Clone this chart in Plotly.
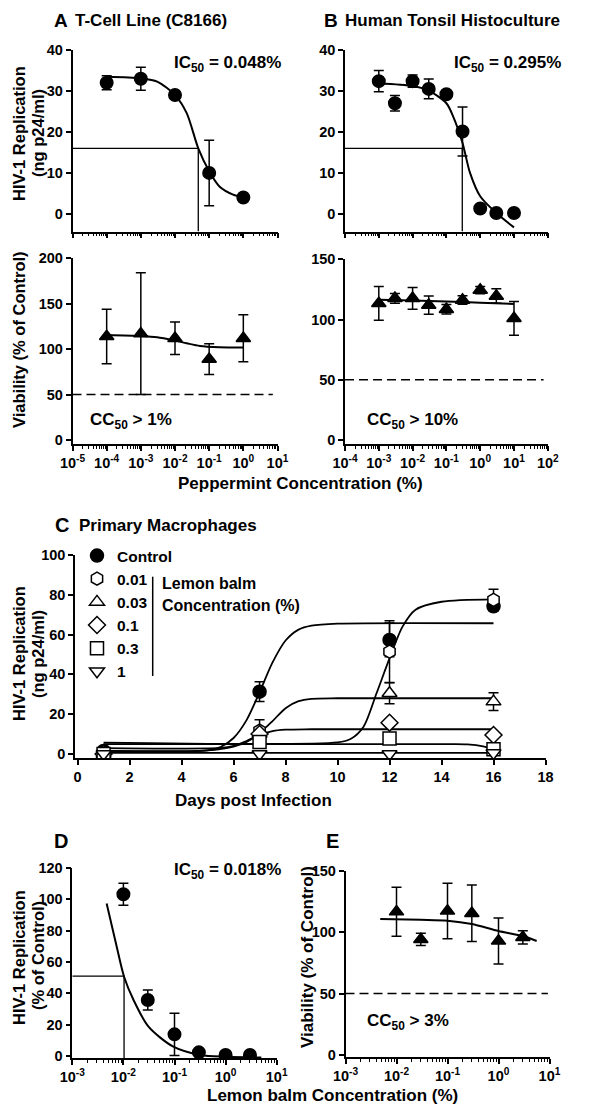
import plotly.graph_objects as go

FONT = "Liberation Sans, Arial, Helvetica, sans-serif"
# the page adds an 8px body margin, so the figure is drawn 16px smaller
OFF = 8
W, H = 600 - 2 * OFF, 1114 - 2 * OFF

# ---------------- Panel A: T-cell line (C8166), peppermint ----------------
a_conc = [1e-4, 1e-3, 1e-2, 1e-1, 1]
a_hiv = [32, 33, 29, 10, 4]
a_hiv_err = [1.7, 2.8, 0, 8, 0]
a_fit_x = [1e-4, 1e-3, 3e-3, 1e-2, 2.2e-2, 4.8e-2, 1e-1, 2e-1, 5e-1, 1]
a_fit_y = [33.5, 33.1, 32.3, 29, 24.6, 16, 10.4, 6.7, 4.7, 4.0]
a_ic50 = 0.048
a_half = 16
a_via = [114, 117, 112, 89, 112]
a_via_err = [30, 67, 18, 17, 26]
a_via_fit_x = [1e-4, 1e-3, 3e-3, 1e-2, 2.2e-2, 5.4e-2, 0.2, 1]
a_via_fit_y = [115.6, 114.5, 113.1, 109.4, 106.5, 103.5, 102.1, 101.7]

# ---------------- Panel B: human tonsil histoculture, peppermint ----------------
b_conc = [1e-3, 3e-3, 1e-2, 3e-2, 1e-1, 3e-1, 1, 3, 10]
b_hiv = [32.4, 27.0, 32.4, 30.5, 29.2, 20.1, 1.3, 0.2, 0.2]
b_hiv_err = [2.6, 1.9, 1.5, 2.4, 0, 6, 0.6, 0, 0]
b_fit_x = [1e-3, 1e-2, 3e-2, 1e-1, 0.16, 0.3, 0.5, 1, 3, 10]
b_fit_y = [31.9, 31.2, 30.1, 27, 23.7, 17.3, 10, 4.3, 0.2, -3.3]
b_ic50 = 0.295
b_half = 16
b_via = [113.4, 117.6, 117.6, 112, 108.5, 116.2, 124.5, 119.5, 101]
b_via_err = [14, 4, 9, 7.6, 4, 3.5, 3, 6, 14]
b_via_fit_x = [1e-3, 1e-2, 1e-1, 1, 10]
b_via_fit_y = [116.5, 115.8, 115, 114, 113]

# ---------------- Panel C: primary macrophages, lemon balm ----------------
days = [1, 7, 12, 16]
c_names = ["Control", "0.01", "0.03", "0.1", "0.3", "1"]
c_symbols = ["circle", "hexagon", "triangle-up", "diamond", "square", "triangle-down"]
c_fill = ["black", "white", "white", "white", "white", "white"]
c_vals = [
    [1.5, 31.3, 57.3, 74.2],
    [0, 11.7, 51.4, 77.4],
    [0, 10, 30.5, 26.3],
    [0, 10, 15.7, 9.5],
    [0, 6, 7.8, 2.3],
    [0, 0, 0, 0.5],
]
c_errs = [
    [1, 5, 8.5, 2],
    [0.5, 5.5, 15.5, 5.4],
    [0, 0, 5.3, 4.5],
    [0, 0, 0, 0],
    [0, 0, 0, 0],
    [0, 0, 0, 0],
]
c_fit_x = [
    [1, 5, 5.5, 6, 6.5, 7, 7.5, 8, 8.5, 9, 10, 16],
    [1, 10, 10.5, 11, 11.5, 12, 12.5, 13, 14, 16],
    [1, 5, 6, 6.5, 7, 7.5, 8, 8.5, 9, 10, 16],
    [1, 5.5, 6, 6.5, 7, 7.5, 8, 9, 16],
    [1, 14, 15, 15.6, 16.1],
    [1, 16],
]
c_fit_y = [
    [1.5, 1.8, 3.5, 8, 17, 31, 46, 57, 62.5, 64.5, 65.5, 65.7],
    [5.7, 5.8, 7.5, 13.7, 30.5, 48, 64, 72.5, 76.5, 77.7],
    [1.5, 1.8, 3.7, 6, 10.5, 16.5, 23, 26.5, 27.7, 28, 28],
    [2.9, 3.0, 4, 6.5, 9.5, 11.5, 12.2, 12.4, 12.4],
    [4.9, 4.9, 4.8, 3.8, 1.8],
    [0.5, 0.5],
]

# ---------------- Panel D / E: lemon balm dose response ----------------
d_conc = [0.01, 0.03, 0.1, 0.3, 1, 3]
d_hiv = [103.2, 35.7, 13.8, 2.3, 0.6, 0.6]
d_hiv_err = [7, 6.4, 13.5, 0, 0, 0]
d_fit_x = [0.0047, 0.0074, 0.0103, 0.0158, 0.031, 0.095, 0.32, 1.0, 5.0]
d_fit_y = [97.4, 69.7, 50.6, 35.7, 18.7, 5.9, 0.6, -0.5, -1.0]
d_ic50_line = 0.0103
d_half = 51
e_conc = [0.01, 0.03, 0.1, 0.3, 1, 3]
e_via = [116.6, 94.1, 117.2, 115.3, 92.8, 95.8]
e_via_err = [20, 5, 22.5, 23, 18.7, 5.4]
e_fit_x = [0.0048, 0.03, 0.1, 0.3, 1, 3, 5.6]
e_fit_y = [110.7, 110, 109.3, 106.6, 100.9, 96.8, 92.8]

# tick labels
exp_a = [-5, -4, -3, -2, -1, 0, 1]
exp_b = [-4, -3, -2, -1, 0, 1, 2]
exp_de = [-3, -2, -1, 0, 1]
ticks_hiv40 = [0, 10, 20, 30, 40]
ticks_via200 = [0, 50, 100, 150, 200]
ticks_via150 = [0, 50, 100, 150]
ticks_c_y = [0, 20, 40, 60, 80, 100]
ticks_c_x = list(range(0, 19, 2))
ticks_d_y = [0, 20, 40, 60, 80, 100, 120]


def px(x):
    return (x - OFF) / W


def py(y):
    return 1 - (y - OFF) / H


def log_ticks(exps):
    return [10.0 ** e for e in exps], [f"10<sup>{e}</sup>" for e in exps]


def axis(**kw):
    base = dict(showline=True, linecolor="black", linewidth=1.5, ticks="outside",
                ticklen=5, tickwidth=1.5, tickcolor="black", showgrid=False,
                zeroline=False, mirror=False, automargin=False,
                tickfont=dict(family=FONT, size=14.5, color="black", weight="bold"))
    base.update(kw)
    return base


def logaxis(exps, labels=True, **kw):
    tv, tt = log_ticks(exps)
    return axis(type="log", range=[exps[0], exps[-1]], tickmode="array",
                tickvals=tv, ticktext=tt, showticklabels=labels,
                minor=dict(ticks="outside", ticklen=3, tickwidth=1,
                           tickcolor="black", dtick="D1", showgrid=False),
                **kw)


fig = go.Figure()
BLK = "black"


def points(x, y, err, ax, symbol="circle", fill=BLK, name=None, legend=False, size=12.5):
    fig.add_trace(go.Scatter(
        x=x, y=y, mode="markers", xaxis=ax[0], yaxis=ax[1], name=name,
        showlegend=legend,
        marker=dict(symbol=symbol, size=size, color=fill, line=dict(color=BLK, width=1.5)),
        error_y=dict(type="data", array=err, color=BLK, thickness=1.5, width=5),
    ))


def curve(x, y, ax, dash=None, smooth=True, width=2):
    fig.add_trace(go.Scatter(
        x=x, y=y, mode="lines", xaxis=ax[0], yaxis=ax[1], showlegend=False,
        line=dict(color=BLK, width=width, dash=dash,
                  shape="spline" if smooth else "linear", smoothing=0.8),
    ))


# Panel A
curve(a_fit_x, a_fit_y, ("x", "y"))
curve([10 ** exp_a[0], a_ic50, a_ic50], [a_half, a_half, -4.3], ("x", "y"), smooth=False, width=1.3)
points(a_conc, a_hiv, a_hiv_err, ("x", "y"))
curve(a_via_fit_x, a_via_fit_y, ("x2", "y2"))
curve([10 ** exp_a[0], 7.3], [50, 50], ("x2", "y2"), dash="9px,5px", smooth=False, width=1.5)
points(a_conc, a_via, a_via_err, ("x2", "y2"), symbol="triangle-up")

# Panel B
curve(b_fit_x, b_fit_y, ("x3", "y3"))
curve([10 ** exp_b[0], b_ic50, b_ic50], [b_half, b_half, -4.3], ("x3", "y3"), smooth=False, width=1.3)
points(b_conc, b_hiv, b_hiv_err, ("x3", "y3"))
curve(b_via_fit_x, b_via_fit_y, ("x4", "y4"))
curve([10 ** exp_b[0], 75], [50, 50], ("x4", "y4"), dash="9px,5px", smooth=False, width=1.5)
points(b_conc, b_via, b_via_err, ("x4", "y4"), symbol="triangle-up")

# Panel C
for fx, fy in zip(c_fit_x, c_fit_y):
    curve(fx, fy, ("x5", "y5"), width=1.8)
for name, sym, fill, vals, errs in zip(c_names, c_symbols, c_fill, c_vals, c_errs):
    points(days, vals, errs, ("x5", "y5"), symbol=sym, fill=fill, name=name, legend=True, size=13)

# Panel D
curve(d_fit_x, d_fit_y, ("x6", "y6"))
curve([10 ** exp_de[0], d_ic50_line, d_ic50_line], [d_half, d_half, -1.3], ("x6", "y6"), smooth=False, width=1.3)
points(d_conc, d_hiv, d_hiv_err, ("x6", "y6"))

# Panel E
curve(e_fit_x, e_fit_y, ("x7", "y7"))
curve([10 ** exp_de[0], 9.3], [50, 50], ("x7", "y7"), dash="9px,5px", smooth=False, width=1.5)
points(e_conc, e_via, e_via_err, ("x7", "y7"), symbol="triangle-up")

dom_a = [px(72.5), px(277.5)]
dom_b = [px(345), px(547.8)]
dom_d = [px(72.3), px(276.7)]
dom_e = [px(345.5), px(549.5)]
top_y = [py(231.5), py(50)]

fig.update_layout(
    width=W, height=H, margin=dict(l=0, r=0, t=0, b=0, autoexpand=False),
    paper_bgcolor="white", plot_bgcolor="white",
    font=dict(family=FONT, color="black"),
    xaxis=logaxis(exp_a, labels=False, domain=dom_a, anchor="y"),
    yaxis=axis(domain=top_y, range=[-4.3, 40], tickvals=ticks_hiv40, anchor="x"),
    xaxis2=logaxis(exp_a, domain=dom_a, anchor="y2"),
    yaxis2=axis(domain=[py(444), py(258.3)], range=[-4.4, 200], tickvals=ticks_via200, anchor="x2"),
    xaxis3=logaxis(exp_b, labels=False, domain=dom_b, anchor="y3"),
    yaxis3=axis(domain=top_y, range=[-4.3, 40], tickvals=ticks_hiv40, anchor="x3"),
    xaxis4=logaxis(exp_b, domain=dom_b, anchor="y4"),
    yaxis4=axis(domain=[py(444), py(259.3)], range=[-3.3, 150], tickvals=ticks_via150, anchor="x4"),
    xaxis5=axis(domain=[px(75), px(545.5)], range=[-0.1, 18], tickvals=ticks_c_x, anchor="y5"),
    yaxis5=axis(domain=[py(758.3), py(555)], range=[-2.2, 100], tickvals=ticks_c_y, anchor="x5"),
    xaxis6=logaxis(exp_de, domain=dom_d, anchor="y6"),
    yaxis6=axis(domain=[py(1058), py(868)], range=[-1.3, 120], tickvals=ticks_d_y, anchor="x6"),
    xaxis7=logaxis(exp_de, domain=dom_e, anchor="y7"),
    yaxis7=axis(domain=[py(1057.3), py(870.7)], range=[-1.9, 150], tickvals=ticks_via150, anchor="x7"),
    legend=dict(x=px(77), y=py(539), xanchor="left", yanchor="top",
                font=dict(family=FONT, size=15.5, color="black", weight="bold"),
                bgcolor="rgba(0,0,0,0)", tracegroupgap=0, itemsizing="trace"),
)


def note(text, x, y, size=17, xanchor="left", angle=0):
    fig.add_annotation(text=f"<b>{text}</b>", x=px(x), y=py(y), xref="paper", yref="paper",
                       xanchor=xanchor, yanchor="middle", showarrow=False, textangle=angle,
                       font=dict(family=FONT, size=size, color="black"))


note("A", 52, 20, 19)
note("T-Cell Line (C8166)", 73, 20)
note("B", 322, 20, 19)
note("Human Tonsil Histoculture", 343, 20)
note("IC<sub>50</sub> = 0.048%", 172, 64)
note("IC<sub>50</sub> = 0.295%", 452, 64)
note("CC<sub>50</sub> > 1%", 88, 421)
note("CC<sub>50</sub> > 10%", 365, 421)
note("Peppermint Concentration (%)", 300, 483, xanchor="center")
note("C", 53, 525, 20)
note("Primary Macrophages", 77, 525)
note("Lemon balm", 160, 583, 16)
note("Concentration (%)", 160, 605, 16)
note("Days post Infection", 253, 800, xanchor="center")
note("D", 52, 841, 20)
note("E", 324, 841, 20)
note("IC<sub>50</sub> = 0.018%", 172, 871)
note("CC<sub>50</sub> > 3%", 365, 1022)
note("Lemon balm Concentration (%)", 333, 1095, xanchor="center")

note("HIV-1 Replication", 19, 134, 16.5, xanchor="center", angle=-90)
note("(ng p24/ml)", 38, 133, 16.5, xanchor="center", angle=-90)
note("Viability (% of Control)", 19, 340, 16.5, xanchor="center", angle=-90)
note("HIV-1 Replication", 19, 654, 16.5, xanchor="center", angle=-90)
note("(ng p24/ml)", 38, 654, 16.5, xanchor="center", angle=-90)
note("HIV-1 Replication", 19, 958, 16.5, xanchor="center", angle=-90)
note("(% of Control)", 38, 956, 16.5, xanchor="center", angle=-90)
note("Viability (% of Control)", 307, 957, xanchor="center", angle=-90)

# bracket line beside the concentration legend entries
fig.add_shape(type="line", xref="paper", yref="paper", x0=px(152.7), x1=px(152.7),
              y0=py(676), y1=py(576.7), line=dict(color="black", width=1.5))

fig.write_html("out.html")
